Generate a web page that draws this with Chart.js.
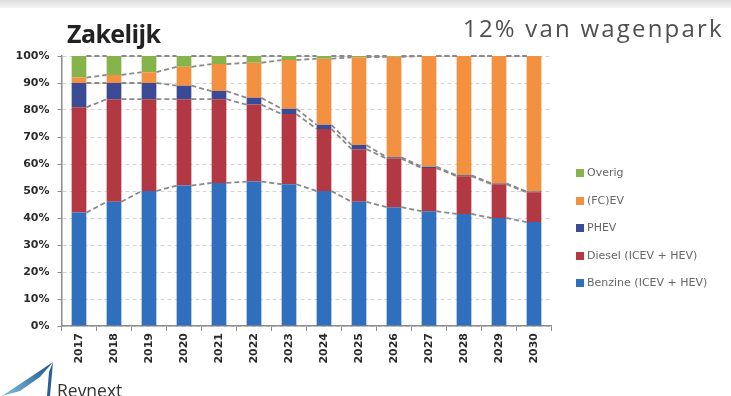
<!DOCTYPE html>
<html>
<head>
<meta charset="utf-8">
<script src="https://cdn.jsdelivr.net/npm/chart.js@4/dist/chart.umd.min.js"></script>
<style>
  body { margin: 0; width: 731px; height: 396px; overflow: hidden; position: relative; background: #fff; font-family: "DejaVu Sans", sans-serif; }
  #band { position: absolute; left: 0; top: 0; width: 731px; height: 8px; background: linear-gradient(#dcdcdc, #f4f4f4); }
  #grafico { position: absolute; left: 0; top: 0; }
  #titel { position: absolute; left: 67px; top: 16px; font: 700 25px "Open Sans", sans-serif; color: #222; letter-spacing: -0.6px; }
  #aandeel { position: absolute; left: 463px; top: 11px; font: 400 24px "Open Sans", sans-serif; color: #505050; letter-spacing: 2.2px; white-space: nowrap; }
  #legenda { position: absolute; left: 576px; top: 166px; margin: 0; padding: 0; list-style: none; }
  #legenda li { height: 27.5px; font-size: 11px; color: #666; display: flex; align-items: flex-start; }
  #legenda i { display: inline-block; width: 8px; height: 8px; margin: 3px 3px 0 0; }
  #logo { position: absolute; left: 0; top: 362px; width: 140px; height: 34px; }
  #logo svg { position: absolute; left: 0; top: 0; }
  #logo span { position: absolute; left: 57px; top: 16px; font: 400 17.5px "Open Sans", sans-serif; color: #333; }
</style>
</head>
<body>
<div id="band"></div>
<canvas id="grafico" width="731" height="396"></canvas>
<div id="titel">Zakelijk</div>
<div id="aandeel">12% van wagenpark</div>
<ul id="legenda"></ul>
<div id="logo">
  <svg width="56" height="34" viewBox="0 0 56 34">
    <defs><linearGradient id="g" x1="0" y1="1" x2="1" y2="0">
      <stop offset="0" stop-color="#7cc0e0"/><stop offset="1" stop-color="#1d4f86"/></linearGradient></defs>
    <polygon points="2,34 53,0 40,15 20,29" fill="url(#g)"/>
    <polygon points="53,0 50,34 47,34 49,10" fill="#2a5f96"/>
  </svg>
  <span>Revnext</span>
</div>
<script>
const jaren = ['2017','2018','2019','2020','2021','2022','2023','2024','2025','2026','2027','2028','2029','2030'];
const benzine = [42, 46, 50, 52, 53, 53.5, 52.5, 50, 46, 44, 42.5, 41.5, 40, 38.5];
const diesel  = [39, 38, 34, 32, 31, 28.5, 26, 23, 19.5, 18, 16, 14, 12.5, 11];
const phev    = [9, 6, 6, 5, 3, 2.5, 2, 1.5, 1.5, 0.5, 0.5, 0.3, 0.3, 0.3];
const fcev    = [2, 3, 4, 7, 10, 13, 18, 24.5, 32.5, 37.2, 41, 44.2, 47.2, 50.2];
const overig  = [8, 7, 6, 4, 3, 2.5, 1.5, 1, 0.5, 0.3, 0, 0, 0, 0];
const yTicks = [0, 10, 20, 30, 40, 50, 60, 70, 80, 90, 100];

const reeksen = [
  { label: 'Benzine (ICEV + HEV)', data: benzine, kleur: '#2f6fbd' },
  { label: 'Diesel (ICEV + HEV)', data: diesel, kleur: '#b23843' },
  { label: 'PHEV', data: phev, kleur: '#3a4a94' },
  { label: '(FC)EV', data: fcev, kleur: '#f39140' },
  { label: 'Overig', data: overig, kleur: '#86b34a' }
];

// grijze stippellijnen tussen de staven (reekslijnen)
const reekslijnen = {
  id: 'reekslijnen',
  afterDatasetsDraw(chart) {
    const c = chart.ctx;
    c.save();
    c.strokeStyle = '#8a8a8a';
    c.lineWidth = 1.8;
    c.setLineDash([5, 3]);
    chart.data.datasets.forEach((ds, k) => {
      const staven = chart.getDatasetMeta(k).data;
      for (let i = 0; i < staven.length - 1; i++) {
        const a = staven[i], b = staven[i + 1];
        c.beginPath();
        c.moveTo(a.x + a.width / 2, a.y);
        c.lineTo(b.x - b.width / 2, b.y);
        c.stroke();
      }
    });
    c.restore();
  }
};

new Chart(document.getElementById('grafico'), {
  type: 'bar',
  data: {
    labels: jaren,
    datasets: reeksen.map(r => ({
      label: r.label,
      data: r.data,
      backgroundColor: r.kleur,
      barPercentage: 0.42,
      categoryPercentage: 1
    }))
  },
  options: {
    responsive: false,
    animation: false,
    layout: { padding: { top: 56, right: 179.5, left: 0, bottom: 0 } },
    plugins: { legend: { display: false }, tooltip: { enabled: false } },
    scales: {
      x: {
        stacked: true,
        afterFit: s => { s.height = 70; },
        grid: { drawOnChartArea: false, offset: true, tickLength: 5, tickColor: '#8c8c8c' },
        border: { color: '#8c8c8c', width: 1.5 },
        ticks: {
          autoSkip: false, minRotation: 90, maxRotation: 90, padding: 2,
          color: '#2b2b2b', font: { family: 'DejaVu Sans', weight: 'bold', size: 11 }
        }
      },
      y: {
        stacked: true,
        min: 0, max: 100,
        afterFit: s => { s.width = 61.5; },
        afterBuildTicks: s => { s.ticks = yTicks.map(v => ({ value: v })); },
        grid: { color: '#d4d4d4', tickLength: 4, tickColor: '#8c8c8c' },
        border: { color: '#8c8c8c', width: 1.5, dash: [4, 3] },
        ticks: {
          padding: 8,
          color: '#2b2b2b',
          font: { family: 'DejaVu Sans', weight: 'bold', size: 11 },
          callback: v => v + '%'
        }
      }
    }
  },
  plugins: [reekslijnen]
});

// legenda (omgekeerde volgorde, zoals in het origineel)
const legendaEl = document.getElementById('legenda');
reeksen.slice().reverse().forEach(r => {
  const li = document.createElement('li');
  li.innerHTML = `<i style="background:${r.kleur}"></i>${r.label}`;
  legendaEl.appendChild(li);
});
</script>
</body>
</html>
